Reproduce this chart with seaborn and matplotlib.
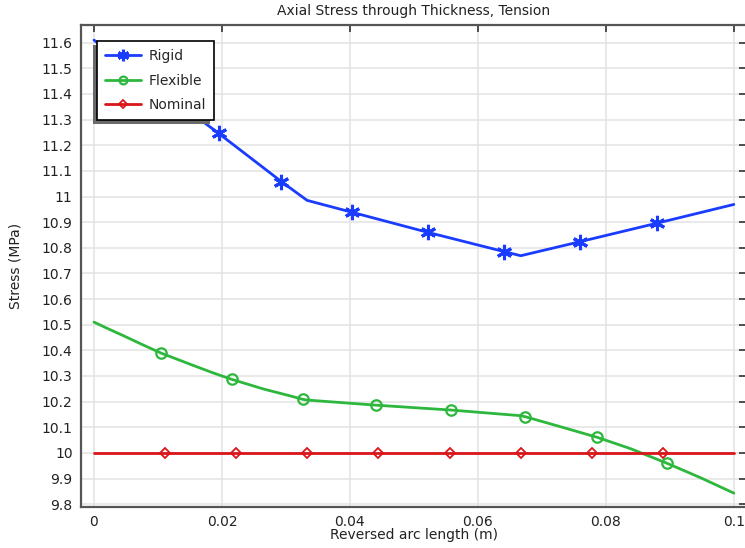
import matplotlib
matplotlib.use("Agg")
import matplotlib.pyplot as plt
from matplotlib.lines import Line2D
from matplotlib.patches import Rectangle
from matplotlib.transforms import IdentityTransform
import seaborn as sns
import pandas as pd

# rigid: piecewise linear through the three layers
rigid_x = [0.0, 0.0195, 0.0293, 0.0333, 0.0404, 0.0522, 0.0641, 0.0667, 0.0760, 0.0880, 0.1]
rigid_y = [11.61, 11.246, 11.058, 10.985, 10.938, 10.860, 10.785, 10.769, 10.824, 10.896, 10.969]
rigid_mark = [1, 2, 4, 5, 6, 8, 9]

flex_x = [0.0, 0.0023, 0.0046, 0.0075, 0.0105, 0.015, 0.0185, 0.0215, 0.0265, 0.0307, 0.0326, 0.0333,
          0.0441, 0.0558, 0.0667, 0.0674, 0.0729, 0.0786, 0.0839, 0.0895, 0.0948, 0.1]
flex_y = [10.51, 10.483, 10.457, 10.423, 10.389, 10.346, 10.313, 10.287, 10.249, 10.222, 10.209, 10.206,
          10.186, 10.167, 10.145, 10.141, 10.102, 10.061, 10.016, 9.960, 9.903, 9.843]
flex_mark = [4, 7, 10, 12, 13, 15, 17, 19]

nom_x = [0.0, 0.0111, 0.0222, 0.0333, 0.0444, 0.0556, 0.0667, 0.0778, 0.0889, 0.1]
nom_y = [10.0] * 10
nom_mark = [1, 2, 3, 4, 5, 6, 7, 8]

yticks = [9.8, 9.9, 10, 10.1, 10.2, 10.3, 10.4, 10.5, 10.6, 10.7, 10.8, 10.9, 11,
          11.1, 11.2, 11.3, 11.4, 11.5, 11.6]
ytick_labels = ["9.8", "9.9", "10", "10.1", "10.2", "10.3", "10.4", "10.5", "10.6", "10.7",
                "10.8", "10.9", "11", "11.1", "11.2", "11.3", "11.4", "11.5", "11.6"]
xticks = [0, 0.02, 0.04, 0.06, 0.08, 0.1]
xtick_labels = ["0", "0.02", "0.04", "0.06", "0.08", "0.1"]

sns.set_theme(style="white")
plt.rcParams['font.family'] = ['DejaVu Sans']

blue = '#1a3cff'
green = '#2db83d'
red = '#d9161a'

fig = plt.figure(figsize=(7.45, 5.48), dpi=100)
ax = fig.add_axes([81 / 745, (548 - 506.7) / 548, (746 - 81) / 745, (506.7 - 25) / 548])

series = [
    ("Rigid", rigid_x, rigid_y, rigid_mark, blue, (6, 2, 0), 11, 2.2),
    ("Flexible", flex_x, flex_y, flex_mark, green, 'o', 7.5, 1.6),
    ("Nominal", nom_x, nom_y, nom_mark, red, 'D', 5, 1.3),
]

handles = []
for name, xs, ys, marks, col, mk, ms, mew in series:
    df = pd.DataFrame({'x': xs, 'y': ys})
    sns.lineplot(data=df, x='x', y='y', ax=ax, color=col, linewidth=2,
                 sort=False, estimator=None, zorder=3)
    dm = df.iloc[marks]
    ax.plot(dm['x'], dm['y'], linestyle='none', marker=mk, markersize=ms,
            markerfacecolor='none' if mk != (6, 2, 0) else col,
            markeredgecolor=col, markeredgewidth=mew, zorder=4)
    handles.append(Line2D([], [], color=col, linewidth=2, marker=mk,
                          markersize=ms * 0.75,
                          markerfacecolor='none' if mk != (6, 2, 0) else col,
                          markeredgecolor=col, markeredgewidth=mew))

ax.set_xlim(-0.00203, 0.1019)
ax.set_ylim(9.790, 11.669)
ax.set_xticks(xticks)
ax.set_xticklabels(xtick_labels)
ax.set_yticks(yticks)
ax.set_yticklabels(ytick_labels)
ax.grid(True, color='#e3e3e3', linewidth=1.1)
ax.set_axisbelow(True)

for s in ['left', 'bottom', 'top']:
    ax.spines[s].set_color('#555555')
    ax.spines[s].set_linewidth(1.6)
ax.spines['right'].set_visible(False)
ax.tick_params(direction='in', top=True, right=True, length=5, width=1.2,
               color='#333333', labelsize=10, pad=6, labelcolor='#222222')

ax.set_title("Axial Stress through Thickness, Tension", fontsize=10, pad=7, color='#222222')
ax.set_xlabel("Reversed arc length (m)", fontsize=10, labelpad=-1, color='#222222')
ax.set_ylabel("Stress (MPa)", fontsize=10, labelpad=14, color='#222222')

leg = ax.legend(handles, ["Rigid", "Flexible", "Nominal"], loc='upper left',
                bbox_to_anchor=(0.024, 0.967), fontsize=10, frameon=True, fancybox=False,
                edgecolor='black', framealpha=1, handlelength=2.6, handletextpad=0.5,
                labelspacing=0.75, borderpad=0.6, borderaxespad=0)
leg.get_frame().set_linewidth(1.2)
leg.set_zorder(6)

fig.canvas.draw()
bb = leg.get_window_extent()
shadow = Rectangle((bb.x0 - 4, bb.y0 - 4), bb.width, bb.height, transform=IdentityTransform(),
                   facecolor='#6a6a6a', edgecolor='none', zorder=5.5, clip_on=False)
ax.add_patch(shadow)

fig.savefig("out.png", dpi=100)
